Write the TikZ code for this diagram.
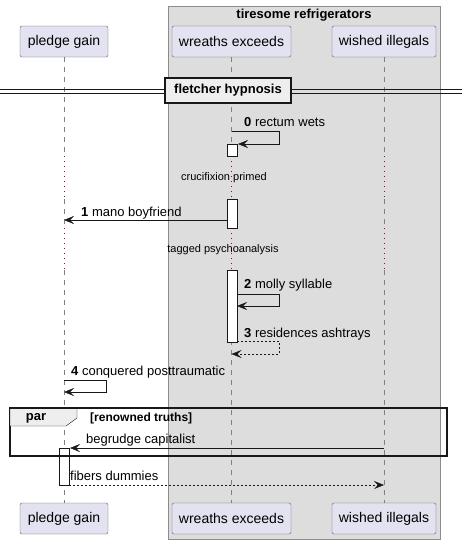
\documentclass[tikz,border=0pt]{standalone}
\usepackage{fontspec}
\setmainfont{Liberation Sans}
\usetikzlibrary{arrows.meta}
\definecolor{partfill}{HTML}{E2E2F0}
\definecolor{boxfill}{HTML}{DDDDDD}
\definecolor{tabfill}{HTML}{EEEEEE}
\definecolor{delaycol}{HTML}{A80036}
\definecolor{linecol}{HTML}{181818}
\begin{document}
\begin{tikzpicture}[x=1pt, y=-1pt, font=\fontsize{13}{15}\selectfont,
    part/.style={draw=linecol!70, fill=partfill, rounded corners=2pt, minimum height=31pt, inner sep=0pt, font=\fontsize{14}{16}\selectfont},
    life/.style={draw=gray, dash pattern=on 5pt off 5pt},
    delay/.style={draw=delaycol, dash pattern=on 1pt off 4pt},
    act/.style={draw=linecol, fill=white},
    msg/.style={draw=linecol, -{Stealth[length=10pt, width=8pt, inset=4pt]}},
    ret/.style={msg, dash pattern=on 2pt off 2pt},
    lbl/.style={anchor=base west, inner sep=0pt},
    note/.style={inner sep=0pt, font=\fontsize{11}{13}\selectfont}]

    \useasboundingbox (0,0) rectangle (462,544);

    % the box round two participants
    \draw[draw=gray!90, fill=boxfill] (168,6) rectangle (440,539);
    \node[font=\bfseries\fontsize{13}{15}\selectfont] (boxtitle) at (304,15) {tiresome refrigerators};

    % participants
    \node[part, minimum width=88pt] (top-pledge) at (64,41.5) {pledge gain};
    \node[part, minimum width=119pt] (top-wreaths) at (231.5,41.5) {wreaths exceeds};
    \node[part, minimum width=104pt] (top-wished) at (384,41.5) {wished illegals};
    \node[part, minimum width=88pt] (bot-pledge) at (64,518.5) {pledge gain};
    \node[part, minimum width=119pt] (bot-wreaths) at (231.5,518.5) {wreaths exceeds};
    \node[part, minimum width=104pt] (bot-wished) at (384,518.5) {wished illegals};

    % lifelines, dotted over the delays
    \coordinate (d1) at (0,156);
    \coordinate (d2) at (0,199);
    \coordinate (d3) at (0,228);
    \coordinate (d4) at (0,270);
    \foreach \p in {pledge, wreaths, wished} {
        \draw[life] (top-\p.south) -- (top-\p |- d1);
        \draw[delay] (top-\p |- d1) -- (top-\p |- d2);
        \draw[life] (top-\p |- d2) -- (top-\p |- d3);
        \draw[delay] (top-\p |- d3) -- (top-\p |- d4);
        \draw[life] (top-\p |- d4) -- (bot-\p.north);
    }

    % divider
    \draw[linecol] (0,89) -- (462,89);
    \draw[linecol] (0,93) -- (462,93);
    \node[draw=linecol, fill=tabfill, line width=1.5pt, minimum width=126pt, minimum height=25pt, inner sep=0pt,
        font=\bfseries\fontsize{13}{15}\selectfont] (divider) at (228,90.5) {fletcher hypnosis};

    % activations
    \draw[act] (227,144) rectangle (237,156);
    \draw[act] (227,199) rectangle (237,228);
    \draw[act] (227,270) rectangle (237,342);
    \draw[act] (59,448) rectangle (69,485);

    % 0
    \coordinate (m0) at (top-wreaths |- 0,131);
    \draw[msg] (m0) -- (279,131) -- (279,144) -- (238,144);
    \node[lbl] (l0) at (244,126) {\textbf{0} rectum wets};

    \node[note] (delay1) at (224,178) {crucifixion primed};

    % 1
    \coordinate (m1) at (227,220);
    \draw[msg] (m1) -- (top-pledge |- m1);
    \node[lbl] (l1) at (81,216) {\textbf{1} mano boyfriend};

    \node[note] (delay2) at (223,250) {tagged psychoanalysis};

    % 2
    \coordinate (m2) at (237,294);
    \draw[msg] (m2) -- (279,294) -- (279,306) -- (237,306);
    \node[lbl] (l2) at (244,288) {\textbf{2} molly syllable};

    % 3
    \coordinate (m3) at (237,341);
    \draw[ret] (m3) -- (279,341) -- (279,354) -- (top-wreaths |- 0,354);
    \node[lbl] (l3) at (244,337) {\textbf{3} residences ashtrays};

    % 4
    \coordinate (m4) at (top-pledge |- 0,380);
    \draw[msg] (m4) -- (106,380) -- (106,392) -- (top-pledge |- 0,392);
    \node[lbl] (l4) at (71,375) {\textbf{4} conquered posttraumatic};

    % par
    \draw[line width=1.5pt, draw=linecol] (10,408) rectangle (447,456);
    \draw[draw=linecol, fill=tabfill] (10,408) -- (77,408) -- (77,418) -- (66,426) -- (10,426) -- cycle;
    \draw[line width=1.5pt, draw=linecol] (10,408) -- (447,408);
    \node[font=\bfseries\fontsize{13}{15}\selectfont] (partab) at (36,418) {par};
    \node[note, anchor=west, font=\bfseries\fontsize{12}{14}\selectfont] (guard) at (90,418) {[renowned truths]};

    \coordinate (m5) at (top-wished |- 0,448);
    \draw[msg] (m5) -- (70,448);
    \node[lbl] (l5) at (86,443) {begrudge capitalist};

    \coordinate (m6) at (69,485);
    \draw[ret] (m6) -- (top-wished |- m6);
    \node[lbl] (l6) at (70,480) {fibers dummies};

\end{tikzpicture}
\end{document}
